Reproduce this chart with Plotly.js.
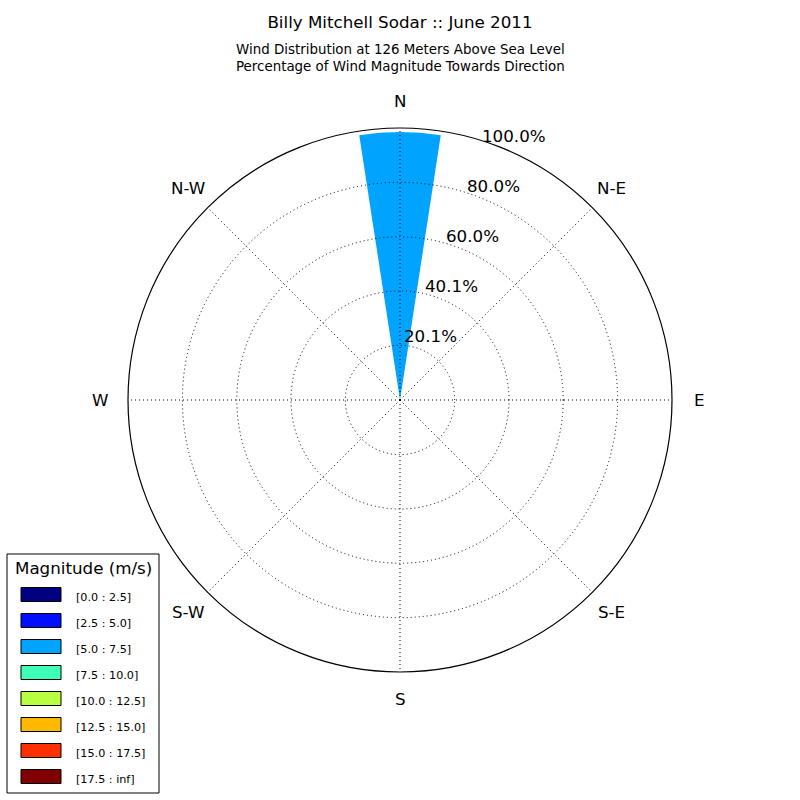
<!DOCTYPE html>
<html><head><meta charset="utf-8">
<script src="https://cdn.plot.ly/plotly-3.0.1.min.js"></script>
<style>html,body{margin:0;padding:0;background:#fff}</style>
</head><body><div id="chart" style="width:800px;height:800px"></div>
<script>
const binLabels = ["[0.0 : 2.5]","[2.5 : 5.0]","[5.0 : 7.5]","[7.5 : 10.0]","[10.0 : 12.5]","[12.5 : 15.0]","[15.0 : 17.5]","[17.5 : inf]"];
const binColors = ["#000080","#0010ff","#00a4ff","#40ffb7","#b7ff40","#ffb900","#ff3000","#800000"];
const directions = [0];              // N
const binValues = [[0],[0],[98.5],[0],[0],[0],[0],[0]];  // percent toward N per magnitude bin
const dirTicks = [0,45,90,135,180,225,270,315];
const dirLabels = ["N","N-E","E","S-E","S","S-W","W","N-W"];
const rTicks = [20.1,40.1,60.0,80.0,100.0];
const rTickText = ["20.1%","40.1%","60.0%","80.0%","100.0%"];

const font = "DejaVu Sans, sans-serif";
const W = 800, H = 800;
const cx = 400, cy0 = 400, Rpx = 272, rMax = 100;   // polar geometry (px)
const deg = Math.PI/180;

const traces = binLabels.map((lab,i)=>({
  type:"barpolar", name:lab, r:binValues[i], theta:directions, width:[17.5],
  marker:{color:binColors[i], line:{width:0}}, showlegend:false, hoverinfo:"skip"
}));
// empty trace so the overlay grid subplot (drawn above the bars) is rendered
traces.push({type:"scatterpolar", r:[], theta:[], subplot:"polar2", showlegend:false, hoverinfo:"skip"});

const shapes = [];
const annotations = [
  {text:"Wind Distribution at 126 Meters Above Sea Level<br>Percentage of Wind Magnitude Towards Direction", xref:"paper", yref:"paper", x:0.5, y:1-57.5/H, xanchor:"center", yanchor:"middle", showarrow:false, font:{size:13.4, family:font}}
];
dirTicks.forEach((a,i)=>{
  const rr = Rpx*1.1;
  annotations.push({text:dirLabels[i], xref:"paper", yref:"paper", x:(cx+rr*Math.sin(a*deg))/W, y:1-(cy0-rr*Math.cos(a*deg))/H,
    xanchor:"center", yanchor:"middle", showarrow:false, font:{size:16.7, family:font}});
});
rTicks.forEach((t,i)=>{
  const rr = t/rMax*Rpx;
  annotations.push({text:rTickText[i], xref:"paper", yref:"paper", x:(cx+rr*Math.sin(22.5*deg)+10)/W, y:1-(cy0-rr*Math.cos(22.5*deg)-13)/H,
    xanchor:"center", yanchor:"middle", showarrow:false, font:{size:16.7, family:font}});
});
shapes.push({type:"rect", xref:"paper", yref:"paper", x0:7/W, x1:159/W, y0:1-793/H, y1:1-554/H,
  line:{color:"#000", width:1}, fillcolor:"#fff", layer:"above"});
annotations.push({text:"Magnitude (m/s)", xref:"paper", yref:"paper", x:83.5/W, y:1-568/H, xanchor:"center", yanchor:"middle", showarrow:false, font:{size:16.7, family:font}});
binLabels.forEach((lab,i)=>{
  const cy = 594.5 + 26*i;
  shapes.push({type:"rect", xref:"paper", yref:"paper", x0:21/W, x1:61/W, y0:1-(cy+7)/H, y1:1-(cy-7)/H,
    line:{color:"#000", width:1}, fillcolor:binColors[i], layer:"above"});
  annotations.push({text:lab, xref:"paper", yref:"paper", x:74/W, y:1-(cy+3)/H, xanchor:"left", yanchor:"middle", showarrow:false, font:{size:11.2, family:font}});
});

const domain = {x:[(cx-Rpx)/W,(cx+Rpx)/W], y:[(cy0-Rpx)/H,(cy0+Rpx)/H]};
const angAxis = {direction:"clockwise", rotation:90, tickmode:"array", tickvals:dirTicks, showticklabels:false,
  showline:true, linecolor:"#000", linewidth:1.2, gridcolor:"#000", griddash:"1px,3px", gridwidth:1, ticks:""};
const radAxis = {range:[0,rMax], angle:67.5, tickmode:"array", tickvals:rTicks, showticklabels:false,
  showline:false, gridcolor:"#000", griddash:"1px,3px", gridwidth:1, ticks:""};

const layout = {
  width:W, height:H, margin:{l:0,r:0,t:0,b:0},
  paper_bgcolor:"#fff", font:{family:font, color:"#000"},
  title:{text:"Billy Mitchell Sodar :: June 2011", x:0.5, xanchor:"center", y:1-22/H, yanchor:"middle", font:{size:16.7, family:font}},
  annotations, shapes, showlegend:false,
  polar:{domain, bgcolor:"#fff",
    angularaxis:Object.assign({}, angAxis, {showgrid:false, showline:false}),
    radialaxis:Object.assign({}, radAxis, {showgrid:false})},
  polar2:{domain, bgcolor:"rgba(0,0,0,0)", angularaxis:angAxis, radialaxis:radAxis}
};
Plotly.newPlot("chart", traces, layout, {displayModeBar:false});
</script></body></html>
